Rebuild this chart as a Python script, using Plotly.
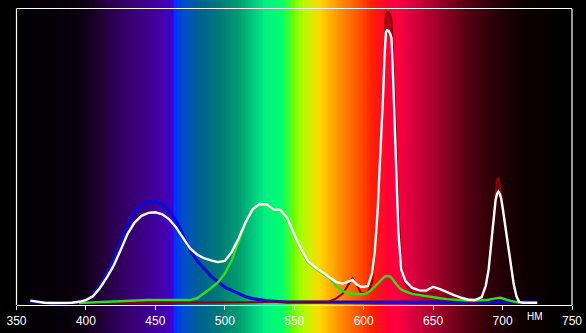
import numpy as np
import plotly.graph_objects as go

# ---------------- data ----------------
wavelength = [355, 360, 365, 370, 375, 380, 385, 390, 395, 400, 405, 410, 415, 420, 425, 430,
              435, 440, 445, 450, 455, 460, 465, 470, 475, 480, 485, 490, 495, 500, 505, 510,
              515, 520, 525, 530, 535, 540, 545, 550, 555, 560, 565, 570, 575, 580, 585, 590,
              592, 595, 598, 600, 603, 606, 608, 610, 612, 614, 615, 616, 617, 618, 619, 620,
              621, 622, 623, 624, 625, 627, 630, 635, 640, 645, 650, 655, 660, 665, 670, 675,
              680, 685, 688, 690, 692, 694, 695, 696, 697, 698, 699, 700, 702, 704, 706, 708,
              710, 712, 715, 720, 725]

white = [None, 0.8, 0.4, 0.1, 0.0, 0.0, 0.0, 0.1, 0.4, 1.0, 2.3, 5.0, 8.6, 12.7, 18.0, 23.5,
         27.3, 29.6, 30.6, 30.8, 30.1, 28.4, 25.6, 22.0, 18.5, 16.5, 15.2, 14.5, 13.9, 14.3, 17.3, 22.0,
         27.5, 31.8, 33.6, 33.5, 31.8, 31.6, 28.8, 23.2, 18.3, 14.1, 12.1, 10.5, 9.0, 7.2, 6.6, 7.4,
         7.8, 6.3, 5.5, 5.5, 5.8, 10.0, 17.5, 31.0, 50.0, 71.0, 84.0, 92.0, 92.6, 92.4, 91.5, 90.0,
         79.0, 66.0, 54.0, 40.0, 24.0, 11.5, 7.5, 5.1, 4.3, 4.2, 5.5, 4.7, 3.6, 2.7, 1.8, 1.2,
         1.0, 2.0, 6.0, 11.5, 21.0, 30.0, 35.0, 37.0, 37.8, 37.0, 35.5, 32.5, 26.0, 19.0, 12.0, 6.5,
         2.3, 0.3, 0.1, 0.1, 0.1]

blue = [None, 0.4, 0.3, 0.0, 0.0, 0.0, 0.0, 0.1, 0.4, 1.0, 2.6, 5.8, 10.0, 14.8, 20.5, 26.5,
        30.8, 33.2, 34.3, 34.4, 33.5, 31.2, 27.7, 23.1, 18.0, 14.3, 11.5, 9.1, 7.2, 5.4, 4.3, 3.1,
        2.1, 1.5, 1.1, 0.8, 0.6, 0.4, 0.3, 0.3, 0.3, 0.3, 0.3, 0.3, 0.3, 0.3, 0.3, 0.3,
        0.3, 0.3, 0.3, 0.3, 0.3, 0.3, 0.3, 0.3, 0.3, 0.3, 0.3, 0.3, 0.3, 0.3, 0.3, 0.3,
        0.3, 0.3, 0.3, 0.3, 0.3, 0.3, 0.3, 0.3, 0.3, 0.3, 0.3, 0.3, 0.3, 0.3, 0.3, 0.3,
        0.3, 0.3, 0.3, 0.3, 0.3, 0.3, 0.3, 0.3, 0.3, 0.3, 0.3, 0.3, 0.3, 0.3, 0.3, 0.3,
        0.3, 0.3, 0.3, 0.3, 0.3]

green = [None, None, None, None, None, None, None, None, 0.0, 0.1, 0.2, 0.3, 0.4, 0.5, 0.7, 0.9,
         1.0, 1.0, 1.0, 1.0, 1.0, 1.0, 1.0, 1.0, 1.0, 1.6, 3.2, 5.0, 7.0, 10.0, 14.5, 21.0,
         27.2, 31.5, 33.3, 33.2, 31.5, 31.3, 28.5, 22.9, 18.0, 13.8, 11.8, 10.2, 8.6, 5.8, 4.0, 3.2,
         3.1, 3.0, 3.0, 3.0, 3.5, 4.6, 5.6, 6.6, 7.6, 8.5, 8.9, 9.1, 9.2, 9.2, 9.0, 8.6,
         8.0, 7.3, 6.6, 6.0, 5.5, 4.6, 3.9, 3.1, 2.7, 2.2, 1.8, 1.6, 1.3, 1.1, 0.9, 0.8,
         0.8, 0.9, 1.0, 1.1, 1.3, 1.5, 1.6, 1.7, 1.8, 1.8, 1.7, 1.6, 1.3, 1.0, 0.7, 0.5,
         0.3, 0.1, None, None, None]

red = [None, None, None, None, None, None, None, None, None, None, None, None, None, 0.1, 0.1, 0.1,
       0.1, 0.2, 0.2, 0.2, 0.2, 0.2, 0.2, 0.2, 0.2, 0.2, 0.3, 0.3, 0.3, 0.3, 0.3, 0.3,
       0.3, 0.3, 0.3, 0.3, 0.4, 0.4, 0.4, 0.4, 0.4, 0.4, 0.4, 0.4, 0.5, 1.5, 3.2, 7.0,
       8.4, 6.2, 3.5, 3.2, 3.5, 7.0, 17.0, 32.0, 50.0, 74.0, 90.0, 98.0, 98.8, 98.6, 98.0, 96.0,
       86.0, 75.0, 62.0, 47.0, 32.0, 14.0, 6.0, 3.8, 3.2, 3.0, 3.6, 3.2, 2.4, 1.6, 1.0, 0.6,
       0.4, 1.2, 5.5, 12.0, 22.0, 32.0, 38.0, 42.0, 42.3, 40.0, 37.0, 33.5, 26.5, 19.0, 11.0, 5.5,
       2.0, 0.5, 0.2, 0.1, None]

tick_vals = [350, 400, 450, 500, 550, 600, 650, 700, 750]
tick_text = ["350", "400", "450", "500", "550", "600", "650", "700", "750"]
unit_label = "НМ"

# background spectrum colours (wavelength, colour)
spectrum_nm = [350, 381, 396, 410, 421, 432, 446, 457, 462, 464, 471, 482, 496, 511, 522, 529,
               540, 545, 550, 554, 561, 568, 576, 586, 597, 606, 612, 617, 624, 633, 648, 662,
               676, 691, 705, 720, 741, 750]
spectrum_col = ["#000000", "#050008", "#0a0010", "#200030", "#2c0055", "#38006e", "#3e0090", "#4400b0",
                "#3a00d0", "#0030ff", "#0050c8", "#006090", "#007a78", "#00a070", "#00d080", "#00f080",
                "#00ff70", "#30ff40", "#70ff00", "#a0ff00", "#d0f000", "#ffd800", "#ffb000", "#ff8000",
                "#ff5000", "#ff2000", "#ff1020", "#ff0038", "#ff0040", "#e00040", "#b00030", "#800020",
                "#500010", "#300008", "#180004", "#0a0000", "#020000", "#000000"]

# ---------------- geometry ----------------
Y_BOTTOM, Y_TOP = -10.19, 102.89
X_DOMAIN = [16.5 / 586, 572.0 / 586]
AXIS_POS = (333 - 305) / 333
FRAME_TOP = 100.0
FRAME_BOT = -0.68

fig = go.Figure()

colorscale = [[(n - 350) / 400, c] for n, c in zip(spectrum_nm, spectrum_col)]
bg_x = np.arange(350, 751, 1)
fig.add_trace(go.Heatmap(x=bg_x, y=[Y_BOTTOM, Y_TOP], z=[bg_x], zmin=350, zmax=750,
                         colorscale=colorscale, showscale=False, hoverinfo="skip"))

wl = np.array(wavelength, dtype=float)
w_arr = np.array([np.nan if v is None else v for v in white])
r_arr = np.array([np.nan if v is None else v for v in red])
over = np.where(np.isnan(r_arr), w_arr, np.fmax(r_arr, w_arr))

# dark-red area where red channel exceeds the total curve
fig.add_trace(go.Scatter(x=wl, y=w_arr, mode="lines", line=dict(width=0, color="rgba(0,0,0,0)"),
                         hoverinfo="skip"))
fig.add_trace(go.Scatter(x=wl, y=over, mode="lines", line=dict(width=0, color="rgba(0,0,0,0)"),
                         fill="tonexty", fillcolor="rgba(120,0,10,0.55)", hoverinfo="skip"))

fig.add_trace(go.Scatter(x=wavelength, y=blue, mode="lines",
                         line=dict(color="rgb(10,10,215)", width=3.2)))
fig.add_trace(go.Scatter(x=wavelength, y=red, mode="lines",
                         line=dict(color="rgb(140,0,0)", width=2)))
fig.add_trace(go.Scatter(x=wavelength, y=green, mode="lines",
                         line=dict(color="rgb(50,220,30)", width=2.4)))
fig.add_trace(go.Scatter(x=wavelength, y=white, mode="lines",
                         line=dict(color="white", width=2.4)))

frame_top_frac = (FRAME_TOP - Y_BOTTOM) / (Y_TOP - Y_BOTTOM)
frame_bot_frac = (FRAME_BOT - Y_BOTTOM) / (Y_TOP - Y_BOTTOM)
line_style = dict(color="white", width=1.2)
fig.add_shape(type="line", xref="x domain", yref="y domain", x0=0, x1=0,
              y0=frame_bot_frac, y1=frame_top_frac, line=line_style, layer="above")
fig.add_shape(type="line", xref="x domain", yref="y domain", x0=1, x1=1,
              y0=frame_bot_frac, y1=frame_top_frac, line=line_style, layer="above")
fig.add_shape(type="line", xref="x domain", yref="y domain", x0=0, x1=1,
              y0=frame_top_frac, y1=frame_top_frac, line=line_style, layer="above")

fig.add_annotation(text=unit_label, x=535 / 586, y=1 - 316.5 / 333, xref="paper", yref="paper",
                   xanchor="center", yanchor="middle", showarrow=False,
                   font=dict(family="Liberation Sans, Arial", size=10, color="white"))

fig.update_layout(
    width=586, height=333,
    margin=dict(l=0, r=0, t=0, b=0, pad=0, autoexpand=False),
    paper_bgcolor="black", plot_bgcolor="black",
    showlegend=False,
    xaxis=dict(range=[350, 750], domain=X_DOMAIN, anchor="free", position=AXIS_POS,
               automargin=False,
               showline=True, linecolor="white", linewidth=1.2,
               ticks="outside", ticklen=4, tickcolor="white", tickwidth=1,
               tickvals=tick_vals, ticktext=tick_text,
               tickfont=dict(family="Liberation Sans, Arial", size=12, color="white"),
               showgrid=False, zeroline=False),
    yaxis=dict(range=[Y_BOTTOM, Y_TOP], domain=[0, 1], visible=False, automargin=False,
               showgrid=False, zeroline=False),
)

fig.write_html("out.html")
